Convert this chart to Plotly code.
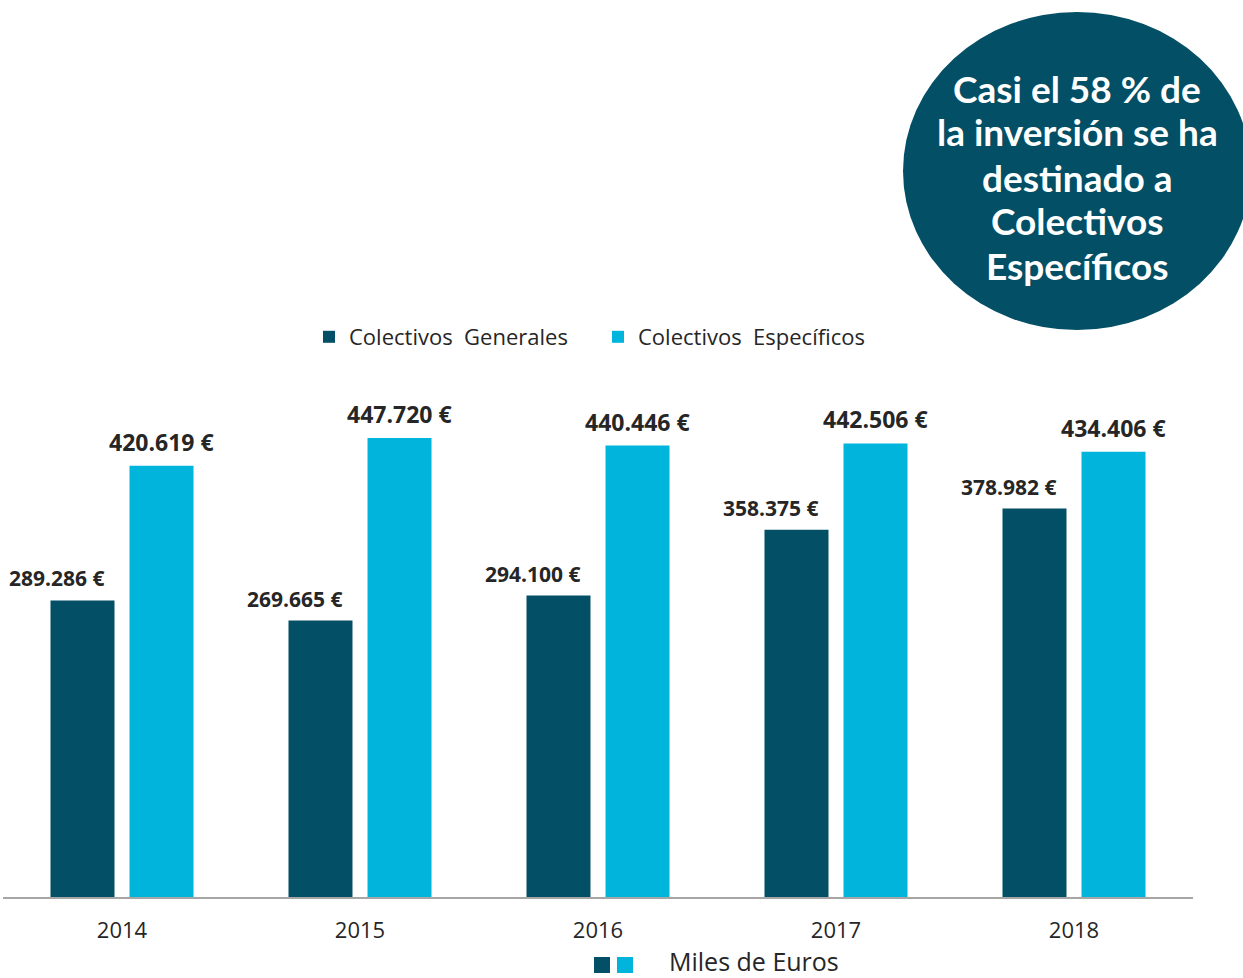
import plotly.graph_objects as go

years = ["2014", "2015", "2016", "2017", "2018"]
generales = [289286, 269665, 294100, 358375, 378982]
especificos = [420619, 447720, 440446, 442506, 434406]
series_names = ["Colectivos\u00a0 Generales", "Colectivos\u00a0 Específicos"]
callout_lines = ["Casi el 58 % de", "la inversión se ha", "destinado a", "Colectivos", "Específicos"]
unit_label = "Miles de Euros"

DARK = "#034F66"
LIGHT = "#00B4DC"
TXT = "#262626"

W, H = 1243, 978
ML, MR, MT, MB = 3, 50, 380, 81
PW = W - ML - MR
PH = H - MT - MB

def px_x(px):
    return (px - ML) / PW

def px_y(py):
    return (H - MB - py) / PH

def fmt(v):
    return f"{v:,}".replace(",", ".") + " €"

BARGAP = 0.336
GROUPGAP = 0.19
half_slot = (1 - BARGAP) / 4

xs = list(range(len(years)))

fig = go.Figure()
fig.add_trace(go.Bar(x=xs, y=generales, name=series_names[0], marker=dict(color=DARK, line=dict(width=0))))
fig.add_trace(go.Bar(x=xs, y=especificos, name=series_names[1], marker=dict(color=LIGHT, line=dict(width=0))))

annotations = []
for i, v in enumerate(generales):
    annotations.append(dict(x=i - half_slot, y=v, xref="x", yref="y", text=fmt(v), showarrow=False,
                            yanchor="bottom", yshift=6, xshift=-25,
                            font=dict(family="Open Sans", size=21, color=TXT, weight="bold")))
for i, v in enumerate(especificos):
    annotations.append(dict(x=i + half_slot, y=v, xref="x", yref="y", text=fmt(v), showarrow=False,
                            yanchor="bottom", yshift=6,
                            font=dict(family="Open Sans", size=23, color=TXT, weight="bold")))

# callout text, one line each
line_ys = [88, 132, 177, 221, 265]
for line, ly in zip(callout_lines, line_ys):
    annotations.append(dict(x=px_x(1077), y=px_y(ly), xref="paper", yref="paper",
                            text=line, showarrow=False,
                            xanchor="center", yanchor="middle", align="center",
                            font=dict(family="Lato", size=37, color="white", weight="bold")))
# unit label
annotations.append(dict(x=px_x(667), y=px_y(961), xref="paper", yref="paper", text=unit_label,
                        showarrow=False, xanchor="left", yanchor="middle",
                        font=dict(family="Open Sans", size=25, color=TXT)))

shapes = [
    dict(type="circle", xref="paper", yref="paper",
         x0=px_x(903), x1=px_x(1251), y0=px_y(330), y1=px_y(12),
         fillcolor=DARK, line=dict(width=0), layer="below"),
    dict(type="rect", xref="paper", yref="paper",
         x0=px_x(594), x1=px_x(610), y0=px_y(973), y1=px_y(957),
         fillcolor=DARK, line=dict(width=0)),
    dict(type="rect", xref="paper", yref="paper",
         x0=px_x(617), x1=px_x(633), y0=px_y(973), y1=px_y(957),
         fillcolor=LIGHT, line=dict(width=0)),
]

ymax = PH / 0.001025

fig.update_layout(
    width=W, height=H,
    margin=dict(l=ML, r=MR, t=MT, b=MB, pad=0),
    plot_bgcolor="white", paper_bgcolor="white",
    barmode="group", bargap=BARGAP, bargroupgap=GROUPGAP,
    showlegend=True,
    legend=dict(orientation="h", x=0.5, xanchor="center", y=px_y(337), yanchor="middle",
                font=dict(family="Open Sans", size=22, color=TXT),
                traceorder="normal", entrywidth=244, entrywidthmode="pixels"),
    annotations=annotations,
    shapes=shapes,
    xaxis=dict(range=[-0.5, len(years) - 0.5], tickvals=xs, ticktext=years,
               showgrid=False, zeroline=False, showline=True, linecolor="#A6A6A6", linewidth=1.5,
               ticks="", ticklabelstandoff=13,
               tickfont=dict(family="Open Sans", size=22, color=TXT)),
    yaxis=dict(range=[0, ymax], visible=False, showgrid=False, zeroline=False),
)

fig.write_html("out.html", config={"displayModeBar": False},
               post_script="document.body.style.margin='0';document.body.style.overflow='hidden';")
